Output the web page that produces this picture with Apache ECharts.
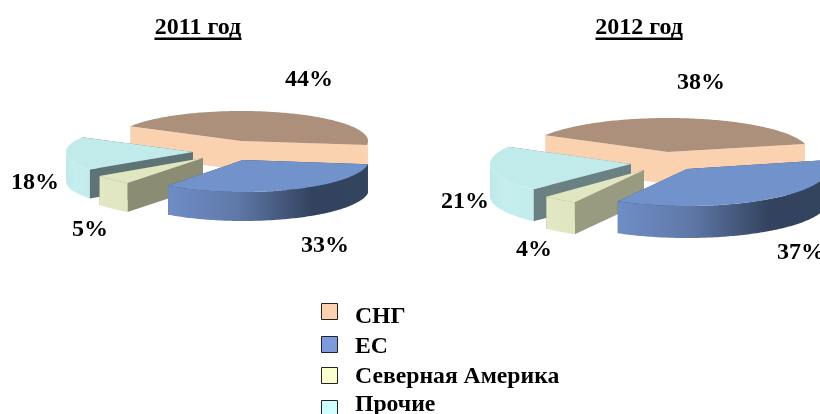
<!DOCTYPE html>
<html>
<head>
<meta charset="utf-8">
<style>
  html, body { margin: 0; padding: 0; background: #fff; }
  #chart { width: 820px; height: 414px; }
</style>
<script src="https://cdn.jsdelivr.net/npm/echarts@6/dist/echarts.min.js"></script>
</head>
<body>
<div id="chart"></div>
<script>
const categories = ['СНГ', 'ЕС', 'Северная Америка', 'Прочие'];
const years = ['2011 год', '2012 год'];
const values2011 = [44, 33, 5, 18];
const values2012 = [38, 37, 4, 21];
const yearValues = [values2011, values2012];

const serifFont = '"Liberation Serif", "Times New Roman", serif';

// painted back to front
const paintOrder = [0, 3, 2, 1];
const legendColors = ['#fdd0b0', '#7b9bdc', '#fbffcc', '#ccffff'];
// swatches and names do not line up evenly in the original, so two sets of legends
const swatchTop = [303, 336, 367, 400];
const nameTop = [305, 335, 365, 393];

// one slice layout per category, for each pie: top face centre and radii
const pieLayouts = [
  {
    start: -60.7, depth: 29,
    slices: [
      { cx: 241, cy: 141, rx: 127, ry: 30 },
      { cx: 243, cy: 160, rx: 126, ry: 32 },
      { cx: 203, cy: 158, rx: 127, ry: 31 },
      { cx: 193, cy: 152, rx: 127, ry: 30 }
    ],
    labels: [[309, 80], [325, 246], [90, 230], [35, 183]],
    cutColors: ['#fbd2b0', '#33445f', '#8a8d74', '#5d7374']
  },
  {
    start: -60.6, depth: 32,
    slices: [
      { cx: 668, cy: 152, rx: 141, ry: 34 },
      { cx: 687, cy: 169, rx: 141, ry: 37 },
      { cx: 644, cy: 170, rx: 141, ry: 37 },
      { cx: 631, cy: 164, rx: 141, ry: 35 }
    ],
    labels: [[701, 83], [801, 253], [534, 250], [465, 202]],
    cutColors: ['#fbd2b0', '#33445f', '#989b80', '#6b8082']
  }
];
const topColors = ['#ad907b', '#7192cb', '#e0e6c0', '#c1ebeb'];
const outerStops = [
  [[0, '#fbd2b0'], [1, '#fbd2b0']],
  [[0, '#6f8dc6'], [0.35, '#5f78a8'], [0.72, '#33435f'], [1, '#33445f']],
  [[0, '#e3e8c4'], [1, '#dfe5bf']],
  [[0, '#c0e8e8'], [0.4, '#c5eeee'], [1, '#c2ecec']]
];

function rimPoint(s, deg, dy) {
  const a = deg * Math.PI / 180;
  return [s.cx + s.rx * Math.sin(a), s.cy - s.ry * Math.cos(a) + dy];
}

function arcPoints(s, from, to, dy) {
  const pts = [];
  const n = Math.max(2, Math.ceil(Math.abs(to - from)));
  for (let i = 0; i <= n; i++) pts.push(rimPoint(s, from + (to - from) * i / n, dy));
  return pts;
}

function renderSlice(params, api) {
  const pie = pieLayouts[params.dataIndex];
  const cat = params.seriesIndex;
  const vals = yearValues[params.dataIndex];
  const s = pie.slices[cat];
  const value = api.value(0);
  const from = pie.start + vals.slice(0, cat).reduce((a, b) => a + b, 0) * 3.6;
  const to = from + value * 3.6;
  const d = pie.depth;
  const children = [];

  // cut walls, the top face hides whichever one faces away
  [from, to].forEach(deg => {
    const rim = rimPoint(s, deg, 0);
    children.push({
      type: 'polygon',
      shape: { points: [[s.cx, s.cy], rim, [rim[0], rim[1] + d], [s.cx, s.cy + d]] },
      style: { fill: pie.cutColors[cat] }
    });
  });

  // outer wall, front half only
  const wallFrom = Math.max(from, 90);
  const wallTo = Math.min(to, 270);
  if (wallTo > wallFrom) {
    const upper = arcPoints(s, wallFrom, wallTo, 0);
    const lower = arcPoints(s, wallFrom, wallTo, d).reverse();
    const stops = outerStops[cat].map(st => ({ offset: st[0], color: st[1] }));
    children.push({
      type: 'polygon',
      shape: { points: upper.concat(lower) },
      style: { fill: new echarts.graphic.LinearGradient(0, 0, 1, 0, stops) }
    });
  }

  children.push({
    type: 'polygon',
    shape: { points: [[s.cx, s.cy]].concat(arcPoints(s, from, to, 0)) },
    style: { fill: topColors[cat] }
  });

  const pos = pie.labels[cat];
  children.push({
    type: 'text',
    z2: 100,
    style: {
      x: pos[0], y: pos[1], text: value + '%',
      fill: '#000', font: 'bold 24px ' + serifFont,
      align: 'center', verticalAlign: 'middle'
    }
  });
  return { type: 'group', children: children };
}

const series = categories.map((name, i) => ({
  type: 'custom',
  name: name,
  coordinateSystem: 'none',
  silent: true,
  z: 2 + paintOrder.indexOf(i),
  renderItem: renderSlice,
  data: yearValues.map(v => [v[i]])
}));

const swatchLegends = categories.map((name, i) => ({
  left: 321,
  top: swatchTop[i],
  padding: 0,
  itemWidth: 16,
  itemHeight: 16,
  selectedMode: false,
  formatter: () => '',
  data: [{
    name: name,
    icon: 'rect',
    itemStyle: { color: legendColors[i], borderColor: '#222', borderWidth: 1 }
  }]
}));

const nameLegends = categories.map((name, i) => ({
  left: 350,
  top: nameTop[i],
  padding: 0,
  itemWidth: 0,
  itemHeight: 0,
  selectedMode: false,
  data: [{ name: name, icon: 'none' }],
  textStyle: { fontFamily: serifFont, fontWeight: 'bold', fontSize: 23.7, color: '#000' }
}));

const titleCenters = [198, 639];

const option = {
  animation: false,
  backgroundColor: '#fff',
  title: years.map((t, i) => ({
    text: t,
    left: titleCenters[i],
    top: 16,
    textAlign: 'center',
    padding: 0,
    textStyle: { fontFamily: serifFont, fontWeight: 'bold', fontSize: 24, color: '#000' }
  })),
  legend: swatchLegends.concat(nameLegends),
  graphic: titleCenters.map(x => ({
    type: 'rect',
    shape: { x: x - 43.5, y: 37.5, width: 87, height: 2.5 },
    style: { fill: '#000' }
  })),
  series: series
};

const myChart = echarts.init(document.getElementById('chart'));
myChart.setOption(option);
</script>
</body>
</html>
